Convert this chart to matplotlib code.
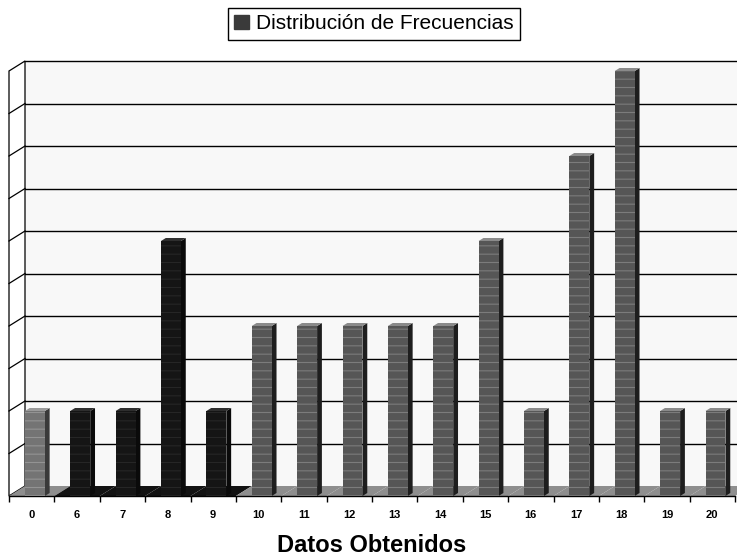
import matplotlib
matplotlib.use("Agg")
import matplotlib.pyplot as plt
from matplotlib.patches import Patch, Polygon

plt.rcParams['font.family'] = ['Liberation Sans', 'DejaVu Sans']
plt.rcParams['hatch.linewidth'] = 0.8

# datos de la tabla de frecuencias
datos = ['0', '6', '7', '8', '9', '10', '11', '12', '13', '14', '15', '16', '17', '18', '19', '20']
frecuencia = [2, 2, 2, 6, 2, 4, 4, 4, 4, 4, 6, 2, 8, 10, 2, 2]
grupo = ['gris', 'negro', 'negro', 'negro', 'negro', 'gris', 'gris', 'gris',
         'gris', 'gris', 'gris', 'gris', 'gris', 'gris', 'gris', 'gris']

colores = {
    'gris': dict(frente='#565656', lado='#1e1e1e', tapa='#8a8a8a', raya='#7c7c7c', piso='#8e8e8e'),
    'negro': dict(frente='#151515', lado='#0a0a0a', tapa='#2e2e2e', raya='#262626', piso='#121212'),
}
color_primero = dict(frente='#747474', lado='#3a3a3a', tapa='#9a9a9a', raya='#939393', piso='#8e8e8e')

fig = plt.figure(figsize=(7.37, 5.57), dpi=100)
W, H = 737, 557

# el eje es el plano frontal del grafico 3D
x0_px, x1_px = 9, 735
y0_px = 496
px_y = 42.5
ymax = 10.6
ax = fig.add_axes([x0_px / W, (H - y0_px) / H, (x1_px - x0_px) / W, ymax * px_y / H])
n = len(datos)
ax.set_xlim(-0.5, n - 0.5)
ax.set_ylim(0, ymax)
ax.patch.set_visible(False)
for s in ax.spines.values():
    s.set_visible(False)
ax.get_yaxis().set_visible(False)

px_x = (x1_px - x0_px) / n
# profundidad del grafico (hacia atras y arriba)
ddx = 16 / px_x
ddy = 10 / px_y
ymax_val = 10

# pared del fondo con lineas de division
ax.add_patch(Polygon([(-0.5 + ddx, ddy), (n + 1 + ddx, ddy), (n + 1 + ddx, ymax_val + ddy),
                      (-0.5 + ddx, ymax_val + ddy)], closed=True, facecolor='#f8f8f8',
                     edgecolor='none', clip_on=False, zorder=0))
for v in range(1, ymax_val + 1):
    ax.plot([-0.5 + ddx, n + 1], [v + ddy, v + ddy], color='black', lw=1.0,
            clip_on=False, zorder=1)

# pared izquierda
ax.add_patch(Polygon([(-0.5, 0), (-0.5, ymax_val), (-0.5 + ddx, ymax_val + ddy), (-0.5 + ddx, ddy)],
                     closed=True, facecolor='white', edgecolor='black', lw=0.9,
                     clip_on=False, zorder=1))
for v in range(1, ymax_val):
    ax.plot([-0.5, -0.5 + ddx], [v, v + ddy], color='black', lw=0.9, clip_on=False, zorder=1)

# piso
for i in range(n):
    c = color_primero if i == 0 else colores[grupo[i]]
    ax.add_patch(Polygon([(i - 0.5, 0), (i + 0.5, 0), (i + 0.5 + ddx, ddy), (i - 0.5 + ddx, ddy)],
                         closed=True, facecolor=c['piso'], edgecolor='none',
                         clip_on=False, zorder=2))
ax.plot([-0.5, n - 0.5], [0, 0], color='black', lw=1.0, clip_on=False, zorder=2)

# barras con cara frontal, lateral y superior
ancho = 0.44
desp = 0.07
prof = 0.3
for i, (v, g) in enumerate(zip(frecuencia, grupo)):
    c = color_primero if i == 0 else colores[g]
    xl = i - ancho / 2 + desp
    xr = xl + ancho
    px, py = prof * ddx, prof * ddy
    ax.add_patch(Polygon([(xr, 0), (xr + px, py), (xr + px, v + py), (xr, v)], closed=True,
                         facecolor=c['lado'], edgecolor='none', clip_on=False, zorder=3))
    ax.add_patch(Polygon([(xl, v), (xr, v), (xr + px, v + py), (xl + px, v + py)], closed=True,
                         facecolor=c['tapa'], edgecolor='none', clip_on=False, zorder=3))
    ax.add_patch(Polygon([(xl, 0), (xr, 0), (xr, v), (xl, v)], closed=True,
                         facecolor=c['frente'], edgecolor='none', clip_on=False, zorder=3))
    ax.add_patch(Polygon([(xl, 0), (xr, 0), (xr, v), (xl, v)], closed=True, hatch='--',
                         facecolor='none', edgecolor=c['raya'], lw=0, clip_on=False, zorder=4))

ax.set_xticks(range(n))
ax.set_xticklabels(datos, fontsize=8, fontweight='bold')
ax.set_xticks([i + 0.5 for i in range(-1, n)], minor=True)
ax.tick_params(axis='x', which='major', length=0, pad=10)
ax.tick_params(axis='x', which='minor', length=4, width=1.0, color='black', direction='out')

ax.set_xlabel('Datos Obtenidos', fontsize=17, fontweight='bold', labelpad=10)

leyenda = [Patch(facecolor='#3a3a3a', edgecolor='#3a3a3a', label='Distribución de Frecuencias')]
fig.legend(handles=leyenda, loc='upper center', bbox_to_anchor=(374 / W, 1 - 8 / H),
           fontsize=15, frameon=True, fancybox=False, framealpha=1, edgecolor='black',
           handlelength=0.7, handleheight=0.7, handletextpad=0.35, borderpad=0.3,
           borderaxespad=0)

fig.savefig('out.png', dpi=100, facecolor='white')
